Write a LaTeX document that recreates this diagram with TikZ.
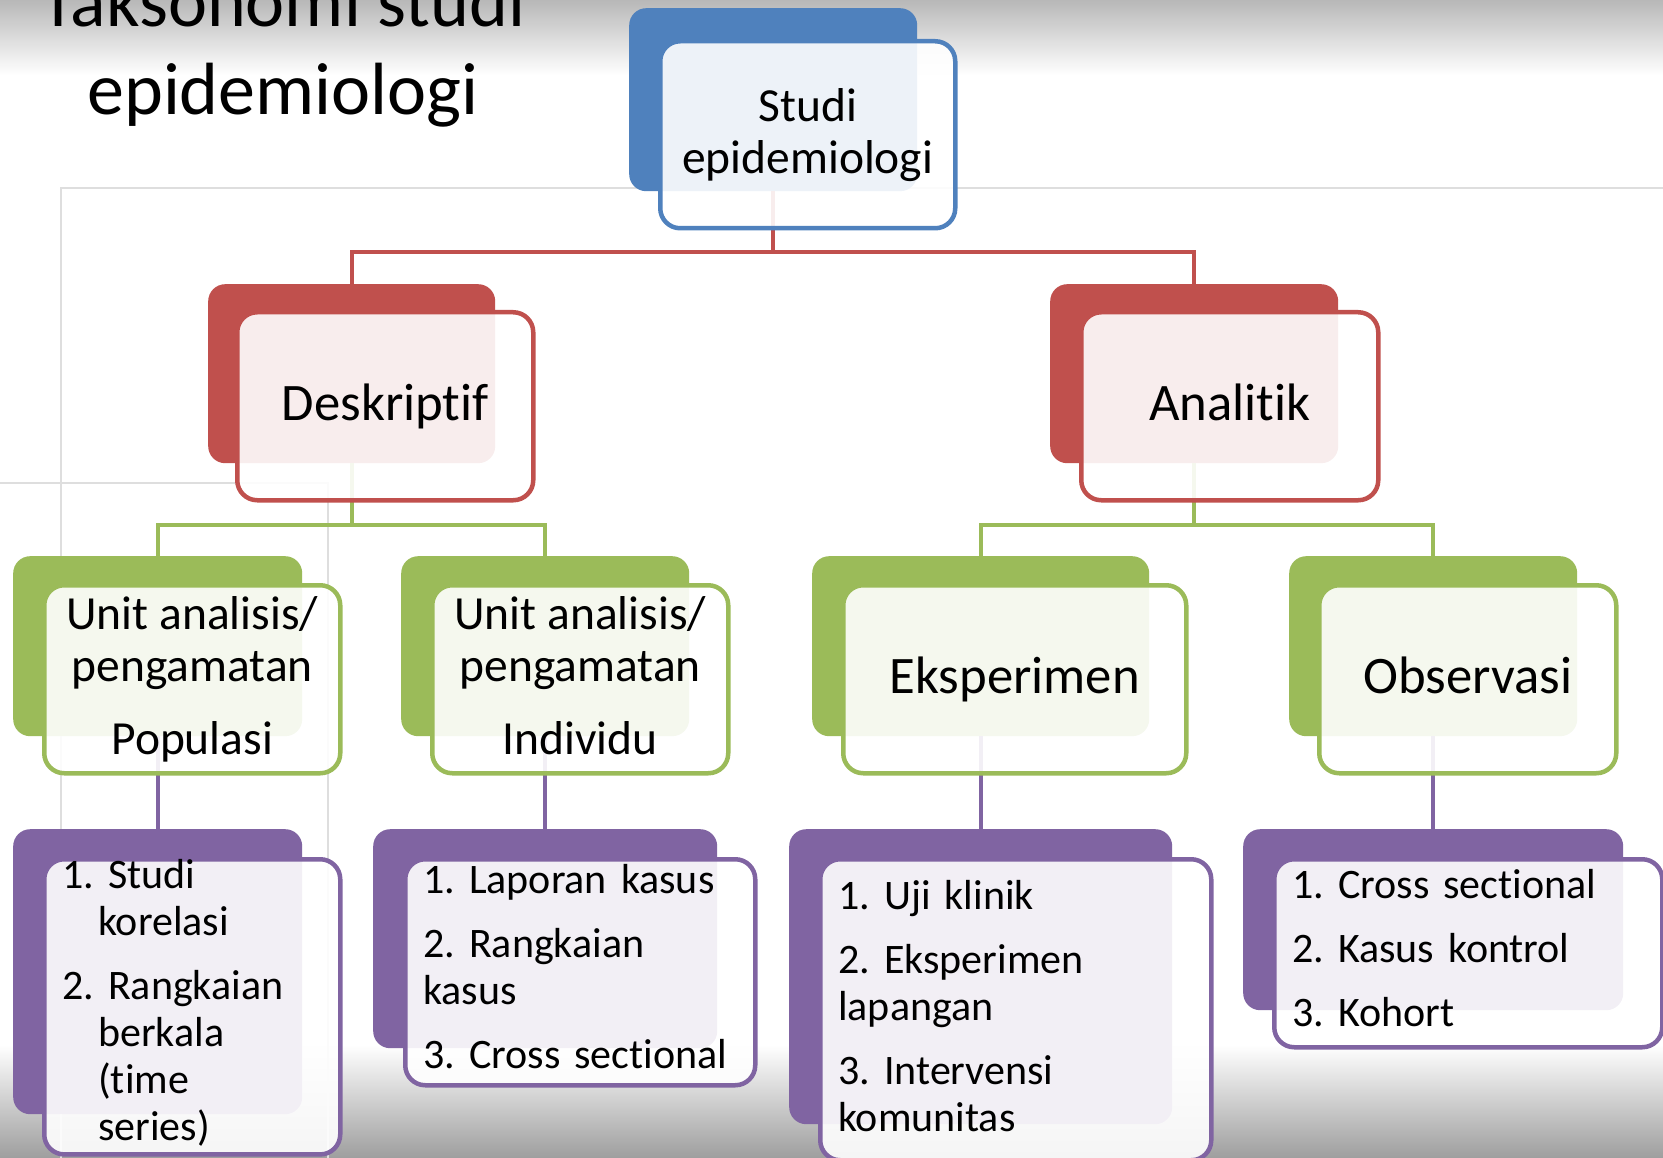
\documentclass[tikz,border=0pt]{standalone}
\usepackage{fontspec}
\setmainfont{Carlito}[Ligatures=NoCommon]
\usepackage{tikz}
\usetikzlibrary{positioning}
\definecolor{accblue}{HTML}{4F81BD}
\definecolor{accred}{HTML}{C0504D}
\definecolor{accgreen}{HTML}{9BBB59}
\definecolor{accpurple}{HTML}{8064A2}
\frenchspacing

\begin{document}
\begin{tikzpicture}[x=1pt, y=-1pt,
		backbox/.style={fill=#1, rounded corners=17pt, anchor=north west, inner sep=0pt},
		frontbox/.style={draw=#1, line width=4.5pt, fill=white, fill opacity=0.9, text opacity=1,
			rounded corners=20pt, anchor=north west, inner sep=0pt, align=center},
		listbox/.style={frontbox=#1, align=left, inner xsep=18pt,
			execute at begin node={\hyphenpenalty=10000}},
		link/.style={line width=4pt},
		headfont/.style={font=\fontsize{52.7}{60}\selectfont},
		unitfont/.style={font=\fontsize{47.5}{52}\selectfont},
		listfont/.style={font=\fontsize{42}{47}\selectfont}]
		\useasboundingbox (0,0) rectangle (1663,1158);
		\clip (0,0) rectangle (1663,1158);
		% slide background
		\shade[top color=black!28, bottom color=white] (0,0) rectangle (1663,75);
		\shade[top color=white, bottom color=black!38] (0,1045) rectangle (1663,1158);
		\draw[black!13, line width=2pt] (61,1158) -- (61,188) -- (1663,188);
		\draw[black!13, line width=2pt] (0,483) -- (328,483) -- (328,1158);
		\node[anchor=base, font=\fontsize{74}{88}\selectfont] (ttl1) at (283,27) {Taksonomi studi};
		\node[anchor=base, font=\fontsize{74}{88}\selectfont] (ttl2) at (283,115) {epidemiologi};
		% back boxes
		\node[backbox=accblue, minimum width=288pt, minimum height=183pt] (topb) at (629,8) {};
		\node[backbox=accred, minimum width=287pt, minimum height=179pt] (desb) at (208,284) {};
		\node[backbox=accred, minimum width=288pt, minimum height=179pt] (anab) at (1050,284) {};
		\node[backbox=accgreen, minimum width=289pt, minimum height=180pt] (popb) at (13,556) {};
		\node[backbox=accgreen, minimum width=288pt, minimum height=180pt] (indb) at (401,556) {};
		\node[backbox=accgreen, minimum width=337pt, minimum height=180pt] (eksb) at (812,556) {};
		\node[backbox=accgreen, minimum width=288pt, minimum height=180pt] (obsb) at (1289,556) {};
		\node[backbox=accpurple, minimum width=289pt, minimum height=285pt] (lst1b) at (13,829) {};
		\node[backbox=accpurple, minimum width=344pt, minimum height=219pt] (lst2b) at (373,829) {};
		\node[backbox=accpurple, minimum width=383pt, minimum height=295pt] (lst3b) at (789,829) {};
		\node[backbox=accpurple, minimum width=380pt, minimum height=181pt] (lst4b) at (1243,829) {};
		% connectors
		\draw[link, accred] (topb.south) -- ++(0,61) -| (desb.north);
		\draw[link, accred] (topb.south) -- ++(0,61) -| (anab.north);
		\draw[link, accgreen] (desb.south) -- ++(0,62) -| (popb.north);
		\draw[link, accgreen] (desb.south) -- ++(0,62) -| (indb.north);
		\draw[link, accgreen] (anab.south) -- ++(0,62) -| (eksb.north);
		\draw[link, accgreen] (anab.south) -- ++(0,62) -| (obsb.north);
		\draw[link, accpurple] (popb.south) -- (lst1b.north);
		\draw[link, accpurple] (indb.south) -- (lst2b.north);
		\draw[link, accpurple] (eksb.south) -- (lst3b.north);
		\draw[link, accpurple] (obsb.south) -- (lst4b.north);
		% front boxes
		\node[frontbox=accblue, unitfont, minimum width=295pt, minimum height=187pt] (top) at (658,39) {Studi\\epidemiologi};
		\node[frontbox=accred, headfont, minimum width=296pt, minimum height=188pt] (des) at (235,310) {Deskriptif};
		\node[frontbox=accred, headfont, minimum width=297pt, minimum height=188pt] (ana) at (1079,310) {Analitik\vphantom{p}};
		\node[frontbox=accgreen, unitfont, minimum width=296pt, minimum height=188pt] (pop) at (42,583) {Unit analisis/\\pengamatan\\[21pt]Populasi};
		\node[frontbox=accgreen, unitfont, minimum width=296pt, minimum height=188pt] (ind) at (430,583) {Unit analisis/\\pengamatan\\[21pt]Individu\vphantom{p}};
		\node[frontbox=accgreen, headfont, minimum width=343pt, minimum height=188pt] (eks) at (841,583) {Eksperimen};
		\node[frontbox=accgreen, headfont, minimum width=297pt, minimum height=188pt] (obs) at (1317,583) {Observasi\vphantom{p}};
		\node[listbox=accpurple, listfont, text width=260pt, minimum width=296pt, minimum height=291pt] (lst1) at (42,857)
			{1. Studi\\\hspace*{36pt}korelasi\\[17pt]2. Rangkaian\\\hspace*{36pt}berkala\\\hspace*{36pt}(time\\\hspace*{36pt}series)\rule[-14pt]{0pt}{1pt}};
		\node[listbox=accpurple, listfont, text width=314pt, minimum width=350pt, minimum height=226pt] (lst2) at (403,857)
			{1. Laporan kasus\\[17pt]2. Rangkaian\\kasus\\[17pt]3. Cross sectional\rule[-12pt]{0pt}{1pt}};
		\node[listbox=accpurple, listfont, text width=355pt, minimum width=391pt, minimum height=301pt] (lst3) at (818,857)
			{1. Uji klinik\\[17pt]2. Eksperimen\\lapangan\\[17pt]3. Intervensi\\komunitas\rule[-8pt]{0pt}{1pt}};
		\node[listbox=accpurple, listfont, text width=352pt, minimum width=388pt, minimum height=188pt] (lst4) at (1272,857)
			{1. Cross sectional\\[17pt]2. Kasus kontrol\\[17pt]3. Kohort\rule[-10pt]{0pt}{1pt}};
	\end{tikzpicture}
\end{document}
